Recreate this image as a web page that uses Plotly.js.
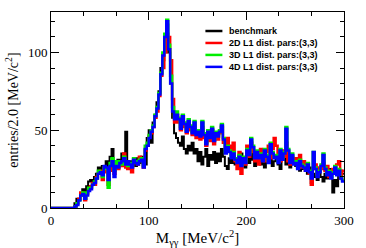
<!DOCTYPE html>
<html>
<head>
<meta charset="utf-8">
<script src="https://cdn.plot.ly/plotly-3.0.1.min.js"></script>
<style>html,body{margin:0;padding:0;background:#fff;}#plot{width:366px;height:248px;}</style>
</head>
<body>
<div id="plot"></div>
<script>
// bin edges: 0..300 MeV, width 2 MeV (150 bins)
const binWidth = 2;
const xMin = 0;
const seriesNames = ["benchmark", "2D L1 dist. pars:(3,3)", "3D L1 dist. pars:(3,3)", "4D L1 dist. pars:(3,3)"];
const seriesColors = ["#000000", "#ff0000", "#00ee00", "#0000ff"];

const benchmark = [
 0,0,0,0,0,0,0,0,0,0, 0,0,3,6,5,9,12,11,14,17,
 18,17,20,22,26,25,27,24,30,22, 33,38,30,28,31,27,35,30,49,28,
 30,28,31,27,32,29,33,30,28,45, 50,42,55,60,68,75,90,95,110,118,
 100,80,58,48,45,42,40,46,38,35, 40,37,42,35,38,30,36,28,33,38,
 27,34,31,36,29,35,30,38,33,27, 25,32,29,34,28,32,28,35,30,26,
 33,29,36,31,27,30,34,28,31,26, 33,29,35,27,30,33,28,25,31,34,
 28,32,26,30,29,27,30,24,28,25, 29,22,26,16,20,22,18,24,20,17,
 22,19,25,21,10,18,14,20,24,22
];
const l1_2d = [
 0,0,0,0,0,0,0,0,0,0, 0,0,1,3,6,10,8,5,9,12,
 14,16,15,20,22,24,18,26,23,15, 24,30,22,28,25,29,27,35,26,25,
 27,23,29,30,28,33,31,26,37,40, 46,48,52,58,62,72,85,90,100,112,
 110,95,70,55,60,55,50,57,52,48, 55,50,47,53,45,48,44,52,45,40,
 47,43,50,41,46,44,48,52,42,38, 45,40,34,42,30,25,36,22,31,28,
 40,33,42,36,30,35,28,38,33,30, 36,40,32,38,45,40,35,30,37,33,
 42,30,28,33,31,32,28,34,26,30, 24,28,22,15,25,28,22,26,25,29,
 24,27,20,22,25,23,28,30,19,24
];
const l1_3d = [
 0,0,0,0,0,0,0,0,0,0, 0,0,1,3,5,8,10,6,10,13,
 13,15,17,19,24,22,20,26,25,13, 29,32,24,30,27,30,28,33,30,27,
 29,27,32,30,29,31,32,27,40,42, 47,50,53,60,65,74,87,100,112,121,
 105,85,65,58,62,58,52,60,55,50, 57,53,49,56,48,50,47,56,48,42,
 50,46,52,44,49,47,50,54,45,36, 40,37,33,36,32,30,34,28,33,30,
 38,35,45,40,33,37,33,35,31,38, 34,30,42,36,33,34,30,38,32,36,
 52,38,30,35,29,30,26,31,28,27, 25,29,24,20,36,26,21,24,28,35,
 26,22,24,20,23,27,22,25,20,18
];
const l1_4d = [
 0,0,0,0,0,0,0,0,0,0, 0,0,1,2,5,8,9,6,8,11,
 12,15,16,19,22,23,21,27,26,18, 27,30,20,27,26,29,30,32,28,30,
 28,26,31,29,28,30,31,26,38,40, 45,49,52,59,64,73,86,98,110,120,
 102,80,62,57,60,57,51,59,54,49, 56,52,48,55,47,49,46,55,47,41,
 49,45,51,43,48,46,49,53,44,35, 39,36,32,35,31,29,33,27,32,29,
 37,34,44,39,32,36,32,34,30,37, 33,29,41,35,32,33,29,37,31,35,
 51,37,29,34,28,29,25,30,27,26, 24,28,23,19,36,25,20,23,27,34,
 25,21,23,19,22,26,21,24,19,17
];
const seriesValues = [benchmark, l1_2d, l1_3d, l1_4d];
const seriesWidths = [2, 2.5, 2.5, 2.5];

function stepX(n) {
  const xs = [];
  for (let i = 0; i <= n; i++) xs.push(xMin + i * binWidth);
  return xs;
}

const traces = seriesValues.map((vals, k) => ({
  type: 'scatter',
  mode: 'lines',
  name: seriesNames[k],
  x: stepX(vals.length),
  y: vals.concat([vals[vals.length - 1]]),
  line: {shape: 'hv', color: seriesColors[k], width: seriesWidths[k]},
  hoverinfo: 'skip',
  showlegend: false
}));

// compact ROOT-style legend (paper coords relative to plot area)
const legX0 = 0.527, legX1 = 0.585, legTextX = 0.602;
const legY = [0.903, 0.842, 0.781, 0.72];
const shapes = [], annotations = [];
seriesNames.forEach((nm, k) => {
  shapes.push({type: 'line', xref: 'paper', yref: 'paper', x0: legX0, x1: legX1, y0: legY[k], y1: legY[k],
    line: {color: seriesColors[k], width: 2.5}});
  annotations.push({xref: 'paper', yref: 'paper', x: legTextX, y: legY[k], xanchor: 'left', yanchor: 'middle',
    text: '<b>' + nm + '</b>', showarrow: false,
    font: {family: "Liberation Sans, Arial, sans-serif", size: 9, color: '#000'}});
});

const serif = "Liberation Serif, Times New Roman, serif";
const layout = {
  width: 366, height: 248,
  margin: {l: 51, r: 22, t: 12, b: 40},
  paper_bgcolor: '#fff', plot_bgcolor: '#fff',
  showlegend: false,
  shapes: shapes,
  annotations: annotations,
  xaxis: {
    range: [0, 300], showgrid: false, zeroline: false,
    showline: true, linecolor: '#000', linewidth: 1, mirror: 'ticks',
    ticks: 'inside', ticklen: 8, tickcolor: '#000', tickwidth: 1,
    tick0: 0, dtick: 100,
    minor: {ticks: 'inside', ticklen: 4, tick0: 0, dtick: 100/3, tickcolor: '#000', showgrid: false},
    tickfont: {family: serif, size: 13, color: '#000'},
    title: {text: "M<sub>γγ</sub> [MeV/c<sup>2</sup>]", font: {family: serif, size: 15, color: '#000'}, standoff: 3}
  },
  yaxis: {
    range: [0, 126], showgrid: false, zeroline: false,
    showline: true, linecolor: '#000', linewidth: 1, mirror: 'ticks',
    ticks: 'inside', ticklen: 8, tickcolor: '#000', tickwidth: 1,
    tick0: 0, dtick: 50,
    minor: {ticks: 'inside', ticklen: 4, tick0: 0, dtick: 10, tickcolor: '#000', showgrid: false},
    tickfont: {family: serif, size: 13, color: '#000'},
    title: {text: "entries/2.0 [MeV/c<sup>2</sup>]", font: {family: serif, size: 14, color: '#000'}, standoff: 6}
  }
};

Plotly.newPlot('plot', traces, layout, {staticPlot: true, displayModeBar: false});
</script>
</body>
</html>
